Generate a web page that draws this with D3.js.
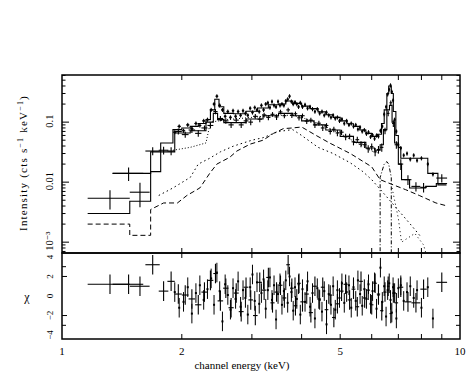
<!DOCTYPE html>
<html><head><meta charset="utf-8">
<script src="https://cdn.jsdelivr.net/npm/d3@7"></script>
<style>body{margin:0;background:#fff}svg{display:block}text{font-family:"Liberation Serif","DejaVu Serif",serif;fill:#000}</style>
</head><body><svg id="c" width="469" height="374"></svg>
<script>
// ---------- data ----------
const xTickLabels = ["1","2","5","10"];
const xTickLabelValues = [1,2,5,10];
const yTickLabels = ["0.1","0.01","10\u207B\u00B3"];
const yTickLabelValues = [0.1,0.01,0.001];
const resTickLabels = ["4","2","0","\u22122","\u22124"];
const resTickLabelValues = [4,2,0,-2,-4];

// data set 1: crosses (energy, half width, intensity, error, residual)
const crossE   = [1.32,1.47,1.57,1.69,1.80,1.88,1.96,2.04,2.12,2.20,2.28,2.36,2.43,2.50,2.58,2.66,2.74,2.82,2.90,2.98,3.06,3.14,3.22,3.30,3.38,3.46,3.54,3.62,3.70,3.78,3.86,3.94,4.02,4.12,4.22,4.32,4.42,4.52,4.62,4.72,4.82,4.92,5.04,5.16,5.28,5.40,5.52,5.64,5.76,5.88,6.00,6.12,6.24,6.36,6.48,6.60,6.70,6.80,6.92,7.10,7.40,7.75,8.10,9.00];
const crossHW  = [0.16,0.13,0.09,0.07,0.05,0.04,0.04,0.04,0.04,0.04,0.04,0.04,0.03,0.04,0.04,0.04,0.04,0.04,0.04,0.04,0.04,0.04,0.04,0.04,0.04,0.04,0.04,0.04,0.04,0.04,0.04,0.04,0.05,0.05,0.05,0.05,0.05,0.05,0.05,0.05,0.05,0.05,0.06,0.06,0.06,0.06,0.06,0.06,0.06,0.06,0.06,0.06,0.06,0.06,0.06,0.05,0.05,0.05,0.07,0.10,0.15,0.20,0.15,0.28];
const crossV   = [0.0054,0.014,0.0068,0.033,0.034,0.033,0.07,0.062,0.074,0.065,0.08,0.088,0.15,0.115,0.105,0.09,0.108,0.09,0.105,0.1,0.125,0.112,0.132,0.12,0.135,0.122,0.148,0.128,0.16,0.13,0.138,0.118,0.128,0.104,0.108,0.09,0.096,0.08,0.088,0.07,0.076,0.066,0.068,0.057,0.058,0.047,0.051,0.043,0.042,0.036,0.039,0.032,0.035,0.038,0.072,0.14,0.21,0.095,0.042,0.02,0.011,0.0085,0.0082,0.0117];
const crossErr = [0.0019,0.0035,0.003,0.005,0.005,0.005,0.008,0.007,0.008,0.008,0.008,0.01,0.015,0.012,0.011,0.01,0.01,0.01,0.01,0.011,0.011,0.012,0.012,0.012,0.012,0.013,0.013,0.012,0.014,0.013,0.012,0.012,0.011,0.011,0.01,0.01,0.009,0.009,0.008,0.008,0.008,0.008,0.007,0.007,0.006,0.006,0.006,0.005,0.005,0.005,0.005,0.005,0.005,0.006,0.009,0.015,0.02,0.012,0.006,0.004,0.002,0.0015,0.0015,0.0018];
const crossRes = [1.2,1.2,1.0,3.2,0.5,1.5,0.2,0.1,-0.3,-0.9,0.4,1.6,2.3,-0.5,0.8,-1.2,0.3,-1.6,0.9,-0.4,-2.0,1.4,0.6,1.9,-0.7,0.4,1.1,-0.2,3.2,0.8,-1.0,1.3,-0.6,0.2,-1.7,1.0,-0.3,0.9,-1.4,0.1,-2.2,-0.8,0.5,1.2,-0.4,0.7,-1.1,1.5,-0.2,0.6,-0.9,1.3,0.2,-1.5,0.4,1.0,-1.8,0.3,-0.7,0.9,-0.6,-0.7,0.7,1.4];

// data set 2: dots (energy, intensity, residual); relative error read ~8%
const dotE = [1.92,1.97,2.02,2.07,2.12,2.17,2.22,2.27,2.32,2.37,2.41,2.45,2.49,2.53,2.57,2.61,2.65,2.69,2.73,2.77,2.81,2.85,2.89,2.93,2.97,3.01,3.05,3.09,3.13,3.17,3.21,3.25,3.29,3.33,3.37,3.41,3.45,3.49,3.53,3.57,3.61,3.65,3.69,3.73,3.77,3.81,3.85,3.89,3.93,3.97,4.02,4.08,4.14,4.20,4.26,4.32,4.38,4.44,4.50,4.56,4.62,4.68,4.74,4.80,4.86,4.92,4.98,5.05,5.12,5.19,5.26,5.33,5.40,5.47,5.54,5.61,5.68,5.75,5.82,5.89,5.96,6.03,6.10,6.17,6.24,6.31,6.38,6.45,6.52,6.58,6.64,6.69,6.74,6.79,6.85,6.92,7.00,7.10,7.22,7.36,7.50,7.65,7.80,8.00,8.30,8.55];
const dotV = [0.068,0.085,0.072,0.09,0.078,0.095,0.088,0.105,0.11,0.16,0.2,0.27,0.19,0.16,0.125,0.15,0.12,0.155,0.125,0.15,0.13,0.155,0.14,0.13,0.17,0.145,0.175,0.16,0.15,0.19,0.16,0.2,0.21,0.175,0.22,0.19,0.18,0.22,0.19,0.2,0.19,0.225,0.24,0.27,0.22,0.2,0.215,0.2,0.18,0.21,0.18,0.195,0.17,0.18,0.165,0.15,0.165,0.14,0.15,0.13,0.145,0.13,0.12,0.13,0.115,0.12,0.105,0.112,0.095,0.105,0.09,0.095,0.085,0.09,0.076,0.082,0.07,0.074,0.064,0.068,0.057,0.061,0.053,0.06,0.058,0.072,0.085,0.135,0.18,0.29,0.35,0.41,0.32,0.23,0.11,0.07,0.042,0.037,0.028,0.03,0.024,0.028,0.023,0.025,0.02,0.0135];
const dotRes = [0.4,-1.2,-0.6,0.9,-1.8,0.3,1.1,-0.4,0.7,1.8,-0.9,2.4,0.5,-2.6,1.2,0.1,-1.4,0.8,-0.3,1.5,-1.1,0.6,-0.2,-1.9,0.9,2.2,-0.5,1.4,-0.8,0.3,1.7,-1.3,0.6,1.9,-0.4,1.1,-2.4,0.2,1.3,-0.9,0.5,1.6,-0.7,2.0,0.4,-1.5,0.9,-0.3,1.2,-1.9,0.7,-0.6,1.5,-1.1,0.3,-2.3,0.8,-0.4,-1.6,0.5,-2.9,0.2,-0.9,1.0,-1.4,0.6,-0.2,1.3,-0.7,0.4,1.1,-1.2,0.9,-0.5,1.6,0.2,-1.0,0.7,-0.3,1.2,-0.8,0.5,1.4,-1.3,0.1,2.9,-0.6,1.0,-2.1,0.6,1.3,-0.4,-1.7,0.9,0.3,-2.3,0.8,1.1,-0.5,0.4,1.0,-0.2,0.6,-1.2,0.9,-2.3];
const dotRelErr = 0.08;
const dotHalfWidth = 0.02;

// folded models (step histograms): [E low, E high, value]
const modelCross = [[1.16,1.48,0.003],[1.48,1.67,0.0048],[1.67,1.92,0.032],[1.92,2.1,0.066],[2.1,2.3,0.072],[2.3,2.4,0.1],[2.4,2.46,0.14],[2.46,2.55,0.11],[2.55,2.9,0.098],[2.9,3.2,0.113],[3.2,3.5,0.128],[3.5,3.8,0.14],[3.8,4.0,0.128],[4.0,4.3,0.105],[4.3,4.6,0.09],[4.6,5.0,0.074],[5.0,5.4,0.058],[5.4,5.8,0.046],[5.8,6.1,0.037],[6.1,6.3,0.034],[6.3,6.42,0.042],[6.42,6.55,0.075],[6.55,6.65,0.16],[6.65,6.75,0.19],[6.75,6.85,0.1],[6.85,7.0,0.045],[7.0,7.13,0.02],[7.13,7.47,0.011],[7.47,8.2,0.008],[8.2,8.72,0.0085],[8.72,9.28,0.0095]];
const modelDot = [[1.34,1.67,0.014],[1.67,1.77,0.015],[1.77,1.9,0.045],[1.9,2.0,0.075],[2.0,2.1,0.08],[2.1,2.2,0.085],[2.2,2.3,0.095],[2.3,2.36,0.11],[2.36,2.42,0.16],[2.42,2.48,0.24],[2.48,2.55,0.18],[2.55,2.7,0.14],[2.7,2.9,0.138],[2.9,3.1,0.152],[3.1,3.3,0.172],[3.3,3.5,0.195],[3.5,3.65,0.2],[3.65,3.8,0.225],[3.8,4.0,0.205],[4.0,4.2,0.185],[4.2,4.4,0.168],[4.4,4.6,0.148],[4.6,4.8,0.133],[4.8,5.0,0.12],[5.0,5.2,0.105],[5.2,5.4,0.094],[5.4,5.6,0.085],[5.6,5.8,0.074],[5.8,6.0,0.065],[6.0,6.2,0.058],[6.2,6.35,0.063],[6.35,6.45,0.095],[6.45,6.55,0.16],[6.55,6.62,0.3],[6.62,6.72,0.4],[6.72,6.8,0.3],[6.8,6.9,0.15],[6.9,7.0,0.06],[7.0,7.1,0.038],[7.1,8.3,0.025],[8.3,8.8,0.014],[8.8,9.25,0.009]];

// model components
const compAE = [1.9,2.1,2.3,2.36,2.6,3.0,3.4,3.8,4.0,4.5,5.0,5.5,6.0,6.3];
const compAV = [0.034,0.038,0.045,0.1,0.11,0.12,0.13,0.13,0.12,0.09,0.065,0.045,0.033,0.03];
const compBE = [1.75,1.9,2.1,2.2,2.35,2.5,2.7,3.0,3.2,3.5,3.8,4.0,4.4,4.8,5.3,5.7,6.0,6.5,7.0,7.5,8.0];
const compBV = [0.006,0.008,0.012,0.02,0.025,0.032,0.04,0.05,0.055,0.07,0.075,0.06,0.038,0.03,0.021,0.015,0.011,0.006,0.0034,0.002,0.0012];
const compCE = [1.16,1.48,1.48,1.67,1.67,1.8,1.95,2.06,2.22,2.35,2.45,2.64,2.75,2.97,3.2,3.4,3.6,3.8,4.0,4.35,4.7,5.3,6.0,6.3,6.8,7.3,7.9,8.7,9.3];
const compCV = [0.002,0.002,0.0013,0.0013,0.0035,0.0045,0.0045,0.006,0.008,0.014,0.02,0.026,0.033,0.043,0.05,0.065,0.078,0.08,0.083,0.06,0.045,0.03,0.018,0.011,0.009,0.0075,0.006,0.0045,0.004];
const lineE = [6.3,6.3,6.45,6.55,6.62,6.72,6.72];
const lineV = [0.0005,0.012,0.02,0.022,0.02,0.012,0.0005];
const compDE = [6.75,7.0,7.13,7.7,8.1,8.3];
const compDV = [0.008,0.0025,0.001,0.0014,0.0009,0.0005];

// ---------- drawing ----------
const svg = d3.select("#c");
const L = 62, R = 460, T = 75, M = 253, B = 339;
const x = d3.scaleLog().domain([1,10]).range([L,R]);
const y = d3.scaleLog().domain([6.6e-4,0.61]).range([M,T]);
const yr = d3.scaleLinear().domain([-4.4,4.4]).range([B,M]);

const defs = svg.append("defs");
defs.append("clipPath").attr("id","cu").append("rect").attr("x",L).attr("y",T).attr("width",R-L).attr("height",M-T);
defs.append("clipPath").attr("id","cl").append("rect").attr("x",L).attr("y",M).attr("width",R-L).attr("height",B-M);

const up = svg.append("g").attr("clip-path","url(#cu)");
const lo = svg.append("g").attr("clip-path","url(#cl)");

function comp(E,V,dash){
  const pts = E.map((e,i)=>[x(e),y(V[i])]);
  up.append("path").attr("d",d3.line()(pts)).attr("fill","none").attr("stroke","#000")
    .attr("stroke-width",1).attr("stroke-dasharray",dash);
}
comp(compAE,compAV,"1,2");
comp(compBE,compBV,"1.5,3");
comp(compCE,compCV,"5,3");
comp(lineE,lineV,"4,2,1,2");
comp(compDE,compDV,"1,3");

function stepModel(segs){
  const pts = [];
  segs.forEach(s=>{pts.push([x(s[0]),y(s[2])]);pts.push([x(s[1]),y(s[2])]);});
  up.append("path").attr("d",d3.line()(pts)).attr("fill","none").attr("stroke","#000").attr("stroke-width",1.1);
}
stepModel(modelCross);
stepModel(modelDot);

const gc = up.append("g").attr("stroke","#000").attr("stroke-width",1.1);
crossE.forEach((e,i)=>{
  gc.append("line").attr("x1",x(e-crossHW[i])).attr("x2",x(e+crossHW[i])).attr("y1",y(crossV[i])).attr("y2",y(crossV[i]));
  gc.append("line").attr("x1",x(e)).attr("x2",x(e)).attr("y1",y(crossV[i]+crossErr[i])).attr("y2",y(Math.max(crossV[i]-crossErr[i],1e-5)));
});
const gd = up.append("g");
dotE.forEach((e,i)=>{
  const v = dotV[i];
  gd.append("line").attr("x1",x(e)).attr("x2",x(e)).attr("y1",y(v*(1+dotRelErr))).attr("y2",y(v*(1-dotRelErr))).attr("stroke","#000");
  gd.append("line").attr("x1",x(e-dotHalfWidth)).attr("x2",x(e+dotHalfWidth)).attr("y1",y(v)).attr("y2",y(v)).attr("stroke","#000");
  gd.append("rect").attr("x",x(e)-1).attr("y",y(v)-1).attr("width",2).attr("height",2).attr("fill","#000");
});

const gr = lo.append("g").attr("stroke","#000").attr("stroke-width",1.1);
crossE.forEach((e,i)=>{
  const r = crossRes[i];
  gr.append("line").attr("x1",x(e-crossHW[i])).attr("x2",x(e+crossHW[i])).attr("y1",yr(r)).attr("y2",yr(r));
  gr.append("line").attr("x1",x(e)).attr("x2",x(e)).attr("y1",yr(r+1)).attr("y2",yr(r-1));
});
const gr2 = lo.append("g");
dotE.forEach((e,i)=>{
  const r = dotRes[i];
  gr2.append("line").attr("x1",x(e)).attr("x2",x(e)).attr("y1",yr(r+1)).attr("y2",yr(r-1)).attr("stroke","#000");
  gr2.append("rect").attr("x",x(e)-1).attr("y",yr(r)-1).attr("width",2).attr("height",2).attr("fill","#000");
});

const fr = svg.append("g").attr("fill","none").attr("stroke","#000").attr("stroke-width",1.5);
fr.append("rect").attr("x",L).attr("y",T).attr("width",R-L).attr("height",M-T);
fr.append("rect").attr("x",L).attr("y",M).attr("width",R-L).attr("height",B-M);

const tk = svg.append("g").attr("stroke","#000").attr("stroke-width",1);
[2,3,4,5,6,7,8,9].forEach(v=>{
  const px = x(v);
  [[T,5],[M,-5],[M,5],[B,-5]].forEach(([yy,d])=>{
    tk.append("line").attr("x1",px).attr("x2",px).attr("y1",yy).attr("y2",yy+d);
  });
});
for(let d=-4; d<=0; d++){
  for(let k=1;k<=9;k++){
    const v = k*Math.pow(10,d);
    if(v<6.6e-4||v>0.61) continue;
    const len = k===1?7:3.5;
    const py = y(v);
    tk.append("line").attr("x1",L).attr("x2",L+len).attr("y1",py).attr("y2",py);
    tk.append("line").attr("x1",R).attr("x2",R-len).attr("y1",py).attr("y2",py);
  }
}
[[2,5],[-2,5],[3,4],[-3,4]].forEach(([v,len])=>{
  const py = yr(v);
  tk.append("line").attr("x1",L).attr("x2",L+len).attr("y1",py).attr("y2",py);
  tk.append("line").attr("x1",R).attr("x2",R-len).attr("y1",py).attr("y2",py);
});

const lab = svg.append("g").attr("font-size",11);
xTickLabelValues.forEach((v,i)=>{
  lab.append("text").attr("x",x(v)).attr("y",355).attr("text-anchor","middle").text(xTickLabels[i]);
});
yTickLabelValues.forEach((v,i)=>{
  lab.append("text").attr("transform",`translate(53,${y(v)-1}) rotate(-90)`).attr("text-anchor","middle").attr("font-size",10.5).text(yTickLabels[i]);
});
resTickLabelValues.forEach((v,i)=>{
  lab.append("text").attr("transform",`translate(53,${yr(v)}) rotate(-90)`).attr("text-anchor","middle").attr("font-size",9).text(resTickLabels[i]);
});
lab.append("text").attr("x",242).attr("y",369).attr("text-anchor","middle").text("channel energy (keV)");
const yl = lab.append("text").attr("transform","translate(27,163) rotate(-90)").attr("text-anchor","middle").attr("letter-spacing",1.2);
yl.append("tspan").text("Intensity (cts s");
yl.append("tspan").attr("dy",-4).attr("font-size",8).text("\u22121");
yl.append("tspan").attr("dy",4).text(" keV");
yl.append("tspan").attr("dy",-4).attr("font-size",8).text("\u22121");
yl.append("tspan").attr("dy",4).text(")");
lab.append("text").attr("x",27).attr("y",301).attr("text-anchor","middle").attr("font-size",12).text("\u03C7");
</script></body></html>
